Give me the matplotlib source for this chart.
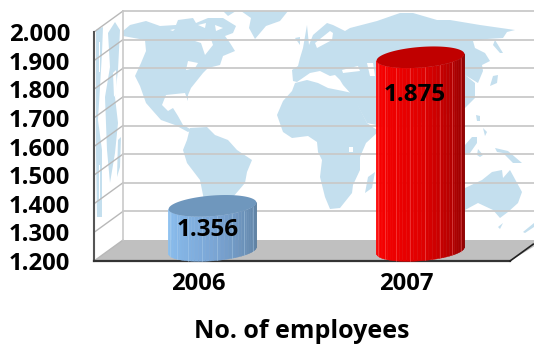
#!/usr/bin/env python3
import matplotlib
matplotlib.use("Agg")
import matplotlib.pyplot as plt
import numpy as np
from matplotlib.collections import PolyCollection
from matplotlib.colors import LinearSegmentedColormap
from matplotlib.patches import Polygon
from matplotlib.transforms import Affine2D

years = ["2006", "2007"]
employees = [1356, 1875]
y_ticks = [1200, 1300, 1400, 1500, 1600, 1700, 1800, 1900, 2000]
x_title = "No. of employees"

# world map outlines on the back wall, in pixels from the top left corner
north_america = [(123, 31), (130, 25), (146, 21), (160, 26), (176, 25), (178, 20), (193, 18), (196, 23), (208, 18),
                 (223, 18), (236, 26), (233, 33), (225, 36), (230, 43), (235, 51), (223, 56), (220, 65), (208, 68),
                 (203, 73), (191, 88), (188, 95), (188, 101), (185, 93), (166, 95), (162, 105), (168, 111),
                 (173, 108), (178, 116), (183, 125), (192, 130), (188, 132), (175, 125), (161, 120), (153, 111),
                 (146, 103), (140, 86), (135, 76), (141, 63), (146, 51), (145, 40), (123, 36)]
south_america = [(190, 128), (207, 127), (215, 135), (228, 140), (237, 150), (252, 160), (247, 172), (245, 183),
                 (233, 197), (205, 205), (200, 180), (187, 163), (183, 150), (187, 140)]
greenland = [(241, 11), (288, 11), (280, 21), (266, 26), (255, 39), (249, 28), (251, 18)]
arctic_sliver = [(223, 11), (236, 11), (228, 16)]
iceland = [(295, 38), (300, 37), (300, 45)]
eurasia = [(300, 58), (303, 48), (307, 25), (309, 45), (313, 35), (327, 23), (333, 25), (345, 31), (350, 28),
           (377, 21), (400, 13), (413, 13), (437, 20), (450, 20), (480, 25), (515, 30), (507, 32), (503, 38),
           (487, 39), (473, 41), (475, 48), (485, 53), (490, 61), (482, 65), (483, 71), (478, 83), (465, 75),
           (475, 83), (475, 98), (465, 108), (400, 130), (367, 123), (352, 95), (343, 85), (340, 80), (335, 75),
           (330, 76), (320, 71), (310, 73), (297, 82), (293, 81), (292, 70), (298, 66)]
africa = [(277, 115), (283, 101), (292, 91), (295, 83), (307, 80), (318, 83), (328, 88), (343, 91), (352, 93),
          (367, 123), (377, 130), (377, 133), (366, 143), (360, 157), (360, 170), (353, 185), (352, 193), (340, 208),
          (330, 209), (325, 197), (320, 177), (322, 160), (318, 152), (317, 142), (308, 136), (292, 138), (283, 132)]
madagascar = [(368, 177), (375, 172), (372, 188), (365, 193)]
australia = [(465, 188), (482, 180), (492, 172), (502, 170), (503, 178), (510, 170), (522, 192), (518, 203),
             (508, 212), (500, 218), (493, 210), (478, 203), (465, 210)]
tasmania = [(498, 227), (503, 223), (500, 229)]
new_zealand = [(523, 232), (534, 223), (534, 227), (525, 233)]
sakhalin = [(495, 40), (503, 53), (500, 53), (493, 45)]
japan = [(493, 76), (498, 75), (497, 83), (490, 86)]
philippines = [(476, 115), (480, 116), (480, 121), (477, 121)]
borneo = [(465, 145), (472, 137), (477, 137), (477, 143), (470, 153), (465, 153)]
sulawesi = [(477, 155), (478, 149), (483, 155), (480, 157)]
moluccas = [(483, 128), (487, 132), (485, 136)]
new_guinea = [(495, 148), (508, 151), (522, 163), (513, 163), (503, 153), (497, 152)]
land_back = [north_america, south_america, greenland, arctic_sliver, iceland, eurasia, africa, madagascar, australia,
             tasmania, new_zealand, sakhalin, japan, philippines, borneo, sulawesi, moluccas, new_guinea]

# inland water cut back out of the land
hudson_bay = [(195, 41), (211, 39), (213, 45), (205, 55), (201, 43)]
great_lakes = [(188, 61), (198, 63), (195, 68), (186, 70)]
arctic_a = [(170, 30), (175, 29), (173, 31)]
arctic_b = [(198, 25), (206, 23), (205, 28)]
arctic_c = [(215, 25), (223, 28), (216, 31)]
baltic = [(315, 43), (330, 31), (333, 33), (332, 40), (317, 48)]
black_sea = [(342, 70), (358, 66), (360, 71), (343, 73)]
caspian = [(367, 63), (373, 63), (375, 76), (370, 76)]
lake_victoria = [(349, 147), (353, 147), (353, 152), (349, 152)]
water = [hudson_bay, great_lakes, arctic_a, arctic_b, arctic_c, baltic, black_sea, caspian, lake_victoria]

# the same map seen edge on along the side wall
side_a = [(96, 30), (103, 27), (102, 53), (100, 87), (98, 120), (102, 150), (102, 217), (97, 217), (96, 153), (96, 87)]
side_b = [(108, 33), (115, 22), (120, 30), (118, 70), (115, 97), (118, 123), (115, 153), (110, 183), (107, 150),
          (105, 97), (110, 67)]
side_c = [(118, 140), (121, 137), (120, 167), (117, 177)]
side_gap_a = [(99, 42), (100, 42), (100, 72), (99, 72)]
side_gap_b = [(113, 73), (116, 70), (117, 93), (114, 97)]
side_gap_c = [(99, 165), (100, 165), (100, 200), (99, 200)]
side_land = [side_a, side_b, side_c]
side_gaps = [side_gap_a, side_gap_b, side_gap_c]

plt.rcParams["font.family"] = ["Open Sans", "DejaVu Sans"]
plt.rcParams["font.weight"] = "bold"

W, H = 534, 346
fig = plt.figure(figsize=(W / 100, H / 100), dpi=100)
# front face of the plot box: x 94..510, y 32..261
ax = fig.add_axes([94 / W, 1 - 261 / H, (510 - 94) / W, (261 - 32) / H])
ax.set_xlim(-0.5, 1.5)
ax.set_ylim(1200, 2000)
ax.patch.set_visible(False)
for s in ax.spines.values():
    s.set_visible(False)

px_x = 2.0 / (510 - 94)
px_y = 800.0 / (261 - 32)
depth_x = 29 * px_x     # box depth, in data units
depth_y = 21 * px_y
pix = Affine2D().scale(1 / W, -1 / H).translate(0, 1) + fig.transFigure

map_color = "#c4dfee"
for part in land_back + side_land:
    fig.add_artist(Polygon(part, closed=True, fc=map_color, ec="none", transform=pix, zorder=0))
for part in water + side_gaps:
    fig.add_artist(Polygon(part, closed=True, fc="white", ec="none", transform=pix, zorder=0))

# walls and floor
x0, x1 = ax.get_xlim()
floor = Polygon([(x0, 1200), (x0 + depth_x, 1200 + depth_y), (x1 + 1.2 * depth_x, 1200 + depth_y),
                 (x1, 1200)], closed=True, fc="#c0c0c0", ec="none", clip_on=False, zorder=1)
ax.add_patch(floor)
grid_c = "#c9c9c9"
for v in y_ticks:
    if v > 1200:
        ax.plot([x0 + depth_x, x1 + 1.2 * depth_x], [v + depth_y, v + depth_y], color=grid_c, lw=1.3,
                clip_on=False, zorder=1.5)
    ax.plot([x0, x0 + depth_x], [v, v + depth_y], color="#b8b8b8", lw=1.0, clip_on=False, zorder=1.5)
ax.plot([x0 + depth_x, x0 + depth_x], [1200 + depth_y, 2000 + depth_y], color=grid_c, lw=1.2, clip_on=False,
        zorder=1.5)
ax.plot([x0, x0], [1200, 2000], color="#555555", lw=1.5, clip_on=False, zorder=2)
ax.plot([x0, x1], [1200, 1200], color="#333333", lw=1.6, clip_on=False, zorder=2)
ax.plot([x1, x1 + 0.8 * depth_x], [1200, 1200 + 0.8 * depth_y], color="#222222", lw=1.2, clip_on=False, zorder=2)


def ellipse(cx, cy, t):
    # slightly tilted ellipse for the cylinder caps, sized in pixels
    a, b = 44.0, 10.3
    tilt = np.radians(4.5)
    ex = a * np.cos(t) * np.cos(tilt) - b * np.sin(t) * np.sin(tilt)
    ey = a * np.cos(t) * np.sin(tilt) + b * np.sin(t) * np.cos(tilt)
    return cx + ex * px_x, cy + ey * px_y


def cylinder(pos, value, side_colors, top_color, line_color):
    cx = pos + depth_x / 2
    base = 1200 + depth_y / 2
    top = value + depth_y / 2
    # lower half of the ellipse, swept left to right
    t = np.linspace(np.pi, 2 * np.pi, 37)
    bx, by = ellipse(cx, base, t)
    tx, ty = ellipse(cx, top, t)
    cmap = LinearSegmentedColormap.from_list("side", side_colors)
    strips = []
    for i in range(len(t) - 1):
        strips.append([(bx[i], by[i]), (bx[i + 1], by[i + 1]), (tx[i + 1], ty[i + 1]), (tx[i], ty[i])])
    shades = [cmap(i / (len(strips) - 1)) for i in range(len(strips))]
    ax.add_collection(PolyCollection(strips, facecolors=shades, edgecolors=shades, linewidths=0.3, zorder=3,
                                     clip_on=False))
    for i in range(3, len(t) - 2, 4):
        ax.plot([bx[i], tx[i]], [by[i], ty[i]], color=line_color, lw=0.5, alpha=0.55, zorder=3.2, clip_on=False)
    cap = np.linspace(0, 2 * np.pi, 120)
    capx, capy = ellipse(cx, top, cap)
    ax.add_patch(Polygon(np.column_stack([capx, capy]), closed=True, fc=top_color, ec="none", zorder=3.5,
                         clip_on=False))


cylinder(0, employees[0], ["#8cc1f2", "#7ba6d6", "#5d7f9f"], "#6f97bd", "#b5d4ee")
cylinder(1, employees[1], ["#ff0000", "#e00000", "#8a0000"], "#c00000", "#ff8080")

# value labels sit inside the columns
label_offsets = [(10, -14), (9, -27)]
for i, v in enumerate(employees):
    ax.annotate(f"{v:,}".replace(",", "."), (i, v), xytext=label_offsets[i], textcoords="offset pixels",
                ha="center", va="center", fontsize=17.5, fontweight="bold", color="black", zorder=5,
                annotation_clip=False)

ax.set_xticks(range(len(years)), years)
ax.set_yticks(y_ticks, [f"{v:,}".replace(",", ".") for v in y_ticks])
ax.tick_params(axis="both", length=0, labelsize=17.2, labelcolor="black")
ax.tick_params(axis="y", pad=17)
ax.tick_params(axis="x", pad=8)
for lab in ax.get_xticklabels() + ax.get_yticklabels():
    lab.set_fontweight("bold")
fig.text(302 / W, 1 - 332 / H, x_title, ha="center", va="center", fontsize=18, fontweight="bold")

fig.savefig("out.png", dpi=100)
